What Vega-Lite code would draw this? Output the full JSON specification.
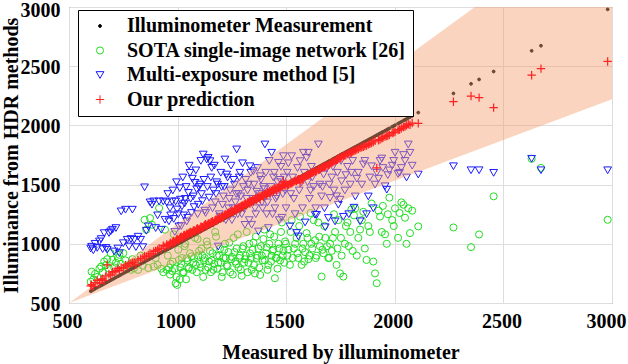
{
  "$schema": "https://vega.github.io/schema/vega-lite/v6.json",
  "width": 543,
  "height": 296,
  "autosize": {"type": "none"},
  "padding": {"left": 69, "top": 7, "right": 16, "bottom": 61},
  "background": "white",
  "config": {
    "font": "Liberation Serif",
    "view": {"stroke": "#666666", "strokeWidth": 1},
    "axis": {
      "labelFont": "Liberation Serif", "labelFontSize": 20, "labelFontWeight": "bold", "labelColor": "#000000",
      "titleFont": "Liberation Serif", "titleFontSize": 20, "titleFontWeight": "bold", "titleColor": "#000000",
      "gridColor": "#dddddd", "gridWidth": 1, "domain": false, "ticks": false, "format": "d"
    },
    "legend": {
      "labelFont": "Liberation Serif", "labelFontSize": 20, "labelFontWeight": "bold", "labelColor": "#000000",
      "strokeColor": "#000000", "fillColor": "#ffffff", "padding": 6, "rowPadding": 4.5, "labelLimit": 400,
      "labelOffset": 17, "symbolOffset": 6, "symbolStrokeWidth": 1
    }
  },
  "datasets": {
    "pts": [
      {"m":600,"ours":645,"multi":960,"sota":680},
      {"m":604,"ours":655,"multi":975,"sota":765},
      {"m":612,"ours":640,"multi":945,"sota":700},
      {"m":620,"ours":672,"multi":1000,"sota":745},
      {"m":630,"ours":690,"multi":965,"sota":720},
      {"m":640,"ours":668,"multi":1020,"sota":790},
      {"m":648,"ours":700,"multi":1040,"sota":808},
      {"m":655,"ours":705,"multi":955,"sota":760},
      {"m":662,"ours":690,"multi":1090,"sota":850},
      {"m":670,"ours":728,"multi":965,"sota":820},
      {"m":676,"ours":822,"multi":950,"sota":870},
      {"m":684,"ours":745,"multi":1091,"sota":790},
      {"m":692,"ours":735,"multi":1105,"sota":921},
      {"m":700,"ours":760,"multi":1119,"sota":864},
      {"m":708,"ours":765,"multi":935,"sota":800},
      {"m":716,"ours":770,"multi":1133,"sota":840},
      {"m":725,"ours":790,"multi":960,"sota":880},
      {"m":732,"ours":775,"multi":921,"sota":907},
      {"m":740,"ours":800,"multi":1274,"sota":830},
      {"m":750,"ours":795,"multi":1005,"sota":921},
      {"m":760,"ours":820,"multi":1288,"sota":860},
      {"m":768,"ours":812,"multi":1034,"sota":800},
      {"m":776,"ours":830,"multi":977,"sota":822},
      {"m":785,"ours":835,"multi":1040,"sota":780},
      {"m":792,"ours":840,"multi":1288,"sota":870},
      {"m":800,"ours":845,"multi":1034,"sota":794},
      {"m":808,"ours":822,"multi":972,"sota":840},
      {"m":818,"ours":862,"multi":1060,"sota":780},
      {"m":830,"ours":875,"multi":1034,"sota":900},
      {"m":840,"ours":880,"multi":972,"sota":815},
      {"m":848,"ours":895,"multi":1477,"sota":1203},
      {"m":856,"ours":892,"multi":1110,"sota":1119},
      {"m":865,"ours":905,"multi":1147,"sota":796},
      {"m":873,"ours":920,"multi":1350,"sota":1217},
      {"m":882,"ours":915,"multi":1330,"sota":1161},
      {"m":890,"ours":935,"multi":1358,"sota":808},
      {"m":899,"ours":940,"multi":1133,"sota":880},
      {"m":908,"ours":950,"multi":1240,"sota":822},
      {"m":915,"ours":963,"multi":1358,"sota":1302},
      {"m":925,"ours":958,"multi":1119,"sota":790},
      {"m":934,"ours":985,"multi":1358,"sota":760},
      {"m":942,"ours":975,"multi":1203,"sota":1119},
      {"m":950,"ours":995,"multi":1350,"sota":780},
      {"m":955,"ours":985,"multi":1420,"sota":900},
      {"m":960,"ours":991,"multi":1190,"sota":800},
      {"m":965,"ours":1000,"multi":1300,"sota":740},
      {"m":968,"ours":1010,"multi":1240,"sota":830},
      {"m":975,"ours":1000,"multi":1358,"sota":770},
      {"m":978,"ours":1015,"multi":1450,"sota":850},
      {"m":982,"ours":1025,"multi":1210,"sota":1080},
      {"m":987,"ours":1010,"multi":1100,"sota":790},
      {"m":991,"ours":1020,"multi":1358,"sota":667},
      {"m":995,"ours":1035,"multi":1520,"sota":720},
      {"m":998,"ours":1040,"multi":1290,"sota":653},
      {"m":1003,"ours":1030,"multi":1250,"sota":950},
      {"m":1006,"ours":1034,"multi":1147,"sota":864},
      {"m":1010,"ours":1045,"multi":1470,"sota":700},
      {"m":1013,"ours":1055,"multi":1373,"sota":800},
      {"m":1017,"ours":1060,"multi":1150,"sota":830},
      {"m":1020,"ours":1050,"multi":1316,"sota":880},
      {"m":1024,"ours":1055,"multi":1560,"sota":760},
      {"m":1028,"ours":1070,"multi":1240,"sota":760},
      {"m":1032,"ours":1075,"multi":1340,"sota":980},
      {"m":1035,"ours":1062,"multi":1379,"sota":1000},
      {"m":1039,"ours":1070,"multi":1480,"sota":700},
      {"m":1042,"ours":1085,"multi":1189,"sota":878},
      {"m":1046,"ours":1080,"multi":1220,"sota":860},
      {"m":1050,"ours":1080,"multi":1430,"sota":790},
      {"m":1053,"ours":1090,"multi":1660,"sota":800},
      {"m":1057,"ours":1095,"multi":1599,"sota":920},
      {"m":1060,"ours":1100,"multi":1380,"sota":1100},
      {"m":1064,"ours":1090,"multi":1260,"sota":895},
      {"m":1068,"ours":1095,"multi":1550,"sota":780},
      {"m":1072,"ours":1110,"multi":1400,"sota":840},
      {"m":1076,"ours":1115,"multi":1310,"sota":880},
      {"m":1080,"ours":1105,"multi":1515,"sota":1050},
      {"m":1084,"ours":1110,"multi":1620,"sota":820},
      {"m":1088,"ours":1125,"multi":1460,"sota":760},
      {"m":1092,"ours":1130,"multi":1250,"sota":1040},
      {"m":1095,"ours":1115,"multi":1330,"sota":900},
      {"m":1099,"ours":1125,"multi":1480,"sota":940},
      {"m":1103,"ours":1119,"multi":1500,"sota":830},
      {"m":1107,"ours":1145,"multi":1700,"sota":800},
      {"m":1110,"ours":1140,"multi":1420,"sota":960},
      {"m":1114,"ours":1140,"multi":1360,"sota":900},
      {"m":1118,"ours":1135,"multi":1754,"sota":720},
      {"m":1121,"ours":1150,"multi":1540,"sota":860},
      {"m":1125,"ours":1160,"multi":1280,"sota":880},
      {"m":1129,"ours":1165,"multi":1260,"sota":780},
      {"m":1134,"ours":1150,"multi":1712,"sota":1020},
      {"m":1137,"ours":1160,"multi":1480,"sota":990},
      {"m":1141,"ours":1170,"multi":1726,"sota":800},
      {"m":1145,"ours":1175,"multi":1390,"sota":850},
      {"m":1149,"ours":1165,"multi":1698,"sota":940},
      {"m":1153,"ours":1180,"multi":1560,"sota":760},
      {"m":1157,"ours":1185,"multi":1641,"sota":860},
      {"m":1161,"ours":1190,"multi":1300,"sota":920},
      {"m":1165,"ours":1175,"multi":1450,"sota":780},
      {"m":1169,"ours":1185,"multi":1660,"sota":830},
      {"m":1173,"ours":1200,"multi":1350,"sota":1100},
      {"m":1177,"ours":1205,"multi":1420,"sota":1060},
      {"m":1180,"ours":1195,"multi":1520,"sota":900},
      {"m":1184,"ours":1200,"multi":1500,"sota":790},
      {"m":1187,"ours":1215,"multi":977,"sota":840},
      {"m":1192,"ours":1225,"multi":1250,"sota":900},
      {"m":1195,"ours":1210,"multi":1230,"sota":960},
      {"m":1199,"ours":1215,"multi":1600,"sota":840},
      {"m":1203,"ours":1230,"multi":1480,"sota":720},
      {"m":1207,"ours":1230,"multi":1330,"sota":760},
      {"m":1211,"ours":1220,"multi":1400,"sota":880},
      {"m":1215,"ours":1240,"multi":1480,"sota":950},
      {"m":1218,"ours":1245,"multi":1712,"sota":1000},
      {"m":1222,"ours":1250,"multi":1200,"sota":880},
      {"m":1226,"ours":1240,"multi":1585,"sota":820},
      {"m":1230,"ours":1255,"multi":1560,"sota":810},
      {"m":1234,"ours":1260,"multi":1300,"sota":930},
      {"m":1238,"ours":1265,"multi":1380,"sota":1010},
      {"m":1242,"ours":1250,"multi":1450,"sota":760},
      {"m":1246,"ours":1270,"multi":1660,"sota":870},
      {"m":1250,"ours":1275,"multi":1200,"sota":890},
      {"m":1254,"ours":1280,"multi":1300,"sota":740},
      {"m":1258,"ours":1268,"multi":1540,"sota":1050},
      {"m":1262,"ours":1290,"multi":1500,"sota":930},
      {"m":1266,"ours":1290,"multi":1350,"sota":850},
      {"m":1270,"ours":1295,"multi":1420,"sota":830},
      {"m":1272,"ours":1280,"multi":1797,"sota":960},
      {"m":1277,"ours":1300,"multi":1250,"sota":1080},
      {"m":1280,"ours":1305,"multi":1420,"sota":800},
      {"m":1284,"ours":1310,"multi":1560,"sota":880},
      {"m":1287,"ours":1295,"multi":1600,"sota":900},
      {"m":1291,"ours":1315,"multi":1400,"sota":780},
      {"m":1295,"ours":1320,"multi":1250,"sota":730},
      {"m":1299,"ours":1325,"multi":1680,"sota":960},
      {"m":1303,"ours":1310,"multi":1480,"sota":980},
      {"m":1306,"ours":1330,"multi":1300,"sota":840},
      {"m":1310,"ours":1335,"multi":1160,"sota":870},
      {"m":1314,"ours":1340,"multi":1540,"sota":900},
      {"m":1318,"ours":1325,"multi":1380,"sota":1100},
      {"m":1322,"ours":1350,"multi":1450,"sota":760},
      {"m":1326,"ours":1345,"multi":1500,"sota":840},
      {"m":1330,"ours":1355,"multi":1200,"sota":1000},
      {"m":1333,"ours":1340,"multi":1655,"sota":920},
      {"m":1337,"ours":1360,"multi":1600,"sota":880},
      {"m":1341,"ours":1360,"multi":1161,"sota":780},
      {"m":1345,"ours":1370,"multi":1380,"sota":950},
      {"m":1349,"ours":1355,"multi":1613,"sota":1010},
      {"m":1352,"ours":1375,"multi":1500,"sota":820},
      {"m":1356,"ours":1375,"multi":1300,"sota":750},
      {"m":1360,"ours":1385,"multi":1250,"sota":1060},
      {"m":1364,"ours":1370,"multi":1440,"sota":880},
      {"m":1368,"ours":1390,"multi":1640,"sota":900},
      {"m":1372,"ours":1390,"multi":1104,"sota":960},
      {"m":1376,"ours":1400,"multi":1420,"sota":800},
      {"m":1380,"ours":1380,"multi":1571,"sota":737},
      {"m":1384,"ours":1405,"multi":1540,"sota":980},
      {"m":1388,"ours":1405,"multi":1350,"sota":900},
      {"m":1391,"ours":1410,"multi":1300,"sota":860},
      {"m":1395,"ours":1395,"multi":1480,"sota":1040},
      {"m":1399,"ours":1420,"multi":1460,"sota":1120},
      {"m":1402,"ours":1420,"multi":1839,"sota":860},
      {"m":1406,"ours":1425,"multi":1600,"sota":920},
      {"m":1410,"ours":1410,"multi":1250,"sota":970},
      {"m":1414,"ours":1435,"multi":1350,"sota":780},
      {"m":1418,"ours":1430,"multi":1133,"sota":820},
      {"m":1422,"ours":1440,"multi":1700,"sota":1000},
      {"m":1426,"ours":1425,"multi":1420,"sota":1080},
      {"m":1430,"ours":1450,"multi":1480,"sota":850},
      {"m":1433,"ours":1445,"multi":1769,"sota":900},
      {"m":1437,"ours":1455,"multi":1250,"sota":940},
      {"m":1441,"ours":1440,"multi":1560,"sota":950},
      {"m":1445,"ours":1465,"multi":1600,"sota":1060},
      {"m":1448,"ours":1455,"multi":1300,"sota":709},
      {"m":1452,"ours":1470,"multi":1380,"sota":880},
      {"m":1456,"ours":1450,"multi":1400,"sota":880},
      {"m":1460,"ours":1475,"multi":1520,"sota":790},
      {"m":1464,"ours":1470,"multi":1684,"sota":1000},
      {"m":1468,"ours":1485,"multi":1200,"sota":960},
      {"m":1472,"ours":1465,"multi":1540,"sota":860},
      {"m":1476,"ours":1490,"multi":1650,"sota":1100},
      {"m":1480,"ours":1485,"multi":1220,"sota":1180},
      {"m":1484,"ours":1495,"multi":1420,"sota":900},
      {"m":1487,"ours":1528,"multi":1740,"sota":940},
      {"m":1491,"ours":1500,"multi":1560,"sota":840},
      {"m":1495,"ours":1490,"multi":1450,"sota":1020},
      {"m":1499,"ours":1510,"multi":1300,"sota":1000},
      {"m":1505,"ours":1495,"multi":1600,"sota":900},
      {"m":1510,"ours":1500,"multi":1680,"sota":950},
      {"m":1517,"ours":1505,"multi":1147,"sota":822},
      {"m":1521,"ours":1515,"multi":1420,"sota":1100},
      {"m":1525,"ours":1510,"multi":1740,"sota":1200},
      {"m":1530,"ours":1520,"multi":1560,"sota":880},
      {"m":1535,"ours":1525,"multi":1380,"sota":960},
      {"m":1541,"ours":1530,"multi":1250,"sota":1000},
      {"m":1548,"ours":1530,"multi":1091,"sota":1050},
      {"m":1552,"ours":1540,"multi":1640,"sota":920},
      {"m":1556,"ours":1545,"multi":1062,"sota":880},
      {"m":1560,"ours":1545,"multi":1450,"sota":1150},
      {"m":1564,"ours":1515,"multi":1698,"sota":1230},
      {"m":1571,"ours":1550,"multi":1520,"sota":822},
      {"m":1575,"ours":1555,"multi":1300,"sota":960},
      {"m":1579,"ours":1560,"multi":1769,"sota":1000},
      {"m":1583,"ours":1565,"multi":1600,"sota":850},
      {"m":1587,"ours":1565,"multi":1180,"sota":930},
      {"m":1594,"ours":1575,"multi":1726,"sota":1090},
      {"m":1598,"ours":1580,"multi":1520,"sota":1050},
      {"m":1602,"ours":1580,"multi":1769,"sota":870},
      {"m":1607,"ours":1590,"multi":1380,"sota":900},
      {"m":1612,"ours":1590,"multi":1450,"sota":1260},
      {"m":1616,"ours":1600,"multi":1650,"sota":1000},
      {"m":1620,"ours":1600,"multi":1560,"sota":960},
      {"m":1626,"ours":1605,"multi":1480,"sota":1200},
      {"m":1633,"ours":1610,"multi":1245,"sota":1030},
      {"m":1636,"ours":1615,"multi":1300,"sota":880},
      {"m":1640,"ours":1615,"multi":1245,"sota":900},
      {"m":1648,"ours":1625,"multi":1839,"sota":1180},
      {"m":1652,"ours":1630,"multi":1620,"sota":1060},
      {"m":1655,"ours":1630,"multi":1500,"sota":980},
      {"m":1663,"ours":1640,"multi":1400,"sota":723},
      {"m":1667,"ours":1645,"multi":1480,"sota":950},
      {"m":1672,"ours":1650,"multi":1585,"sota":920},
      {"m":1676,"ours":1650,"multi":1300,"sota":1150},
      {"m":1680,"ours":1655,"multi":1140,"sota":1050},
      {"m":1688,"ours":1660,"multi":1640,"sota":980},
      {"m":1694,"ours":1665,"multi":1218,"sota":880},
      {"m":1698,"ours":1670,"multi":1500,"sota":880},
      {"m":1702,"ours":1680,"multi":1387,"sota":1000},
      {"m":1710,"ours":1685,"multi":1560,"sota":940},
      {"m":1715,"ours":1690,"multi":1650,"sota":1050},
      {"m":1720,"ours":1695,"multi":1450,"sota":1250},
      {"m":1725,"ours":1700,"multi":1189,"sota":1100},
      {"m":1732,"ours":1710,"multi":1401,"sota":822},
      {"m":1736,"ours":1710,"multi":1600,"sota":960},
      {"m":1740,"ours":1720,"multi":1330,"sota":1200},
      {"m":1748,"ours":1725,"multi":1373,"sota":750},
      {"m":1752,"ours":1725,"multi":1700,"sota":1050},
      {"m":1755,"ours":1740,"multi":1528,"sota":900},
      {"m":1763,"ours":1740,"multi":1228,"sota":723},
      {"m":1770,"ours":1745,"multi":1450,"sota":1000},
      {"m":1775,"ours":1750,"multi":1580,"sota":1150},
      {"m":1782,"ours":1760,"multi":1650,"sota":1180},
      {"m":1788,"ours":1765,"multi":1250,"sota":980},
      {"m":1795,"ours":1770,"multi":1500,"sota":1100},
      {"m":1800,"ours":1770,"multi":1600,"sota":1290},
      {"m":1806,"ours":1780,"multi":1700,"sota":940},
      {"m":1812,"ours":1785,"multi":1305,"sota":1240},
      {"m":1818,"ours":1790,"multi":1400,"sota":1300},
      {"m":1825,"ours":1795,"multi":1550,"sota":900},
      {"m":1832,"ours":1800,"multi":1600,"sota":1050},
      {"m":1840,"ours":1810,"multi":1190,"sota":1120},
      {"m":1848,"ours":1815,"multi":1500,"sota":1200},
      {"m":1855,"ours":1820,"multi":1670,"sota":1270},
      {"m":1862,"ours":1825,"multi":1700,"sota":960},
      {"m":1870,"ours":1830,"multi":1250,"sota":864},
      {"m":1878,"ours":1840,"multi":1400,"sota":1150},
      {"m":1885,"ours":1845,"multi":1560,"sota":1100},
      {"m":1893,"ours":1850,"multi":1655,"sota":1340},
      {"m":1901,"ours":1860,"multi":1300,"sota":850},
      {"m":1909,"ours":1870,"multi":1500,"sota":750},
      {"m":1917,"ours":1641,"multi":1600,"sota":667},
      {"m":1925,"ours":1875,"multi":1550,"sota":1280},
      {"m":1932,"ours":1880,"multi":1700,"sota":1230},
      {"m":1940,"ours":1890,"multi":1720,"sota":1100},
      {"m":1945,"ours":1895,"multi":1640,"sota":1320},
      {"m":1955,"ours":1905,"multi":1486,"sota":1080},
      {"m":1963,"ours":1910,"multi":1457,"sota":1000},
      {"m":1968,"ours":1915,"multi":1580,"sota":1250},
      {"m":1975,"ours":1920,"multi":1620,"sota":1390},
      {"m":1988,"ours":1935,"multi":1660,"sota":1200},
      {"m":1995,"ours":1940,"multi":1700,"sota":1150},
      {"m":2001,"ours":1945,"multi":1769,"sota":1300},
      {"m":2015,"ours":1960,"multi":1590,"sota":1050},
      {"m":2022,"ours":1965,"multi":1600,"sota":1260},
      {"m":2030,"ours":1975,"multi":1640,"sota":1350},
      {"m":2040,"ours":1985,"multi":1750,"sota":1330},
      {"m":2047,"ours":1990,"multi":1700,"sota":1220},
      {"m":2054,"ours":2000,"multi":1560,"sota":1000},
      {"m":2062,"ours":2010,"multi":1839,"sota":1300},
      {"m":2070,"ours":2005,"multi":1769,"sota":1090},
      {"m":2080,"ours":2020,"multi":1660,"sota":1280},
      {"m":2108,"ours":2017,"multi":1585,"sota":1147},
      {"m":2270,"ours":2200,"multi":1655,"sota":1138},
      {"m":2351,"ours":2248,"multi":1621,"sota":972},
      {"m":2388,"ours":2235,"multi":1621,"sota":1079},
      {"m":2455,"ours":2150,"multi":1599,"sota":1401},
      {"m":2630,"ours":2424,"multi":1718,"sota":1718},
      {"m":2673,"ours":2480,"multi":1621,"sota":1641},
      {"m":2980,"ours":2540,"multi":1621,"sota":1203}
    ],
    "band": [
      {"bx": 500, "lo": 500, "hi": 500},
      {"bx": 3000, "lo": 2220, "hi": 3845}
    ]
  },
  "layer": [
    {
      "data": {"name": "pts"},
      "transform": [{"fold": ["sota", "multi", "m"], "as": ["series", "y"]}],
      "encoding": {
        "x": {"field": "m", "type": "quantitative", "scale": {"domain": [500, 3000], "nice": false},
              "axis": {"values": [500, 1000, 1500, 2000, 2500, 3000], "title": "Measured by illuminometer", "labelFlush": false,
                       "labelPadding": 8, "titlePadding": 11,
                       "labelOffset": {"condition": {"test": "datum.value === 3000", "value": -6}, "value": -2}}},
        "y": {"field": "y", "type": "quantitative", "scale": {"domain": [500, 3000], "nice": false},
              "axis": {"values": [500, 1000, 1500, 2000, 2500, 3000], "title": "Illuminance from HDR methods", "labelFlush": false,
                       "labelPadding": 9, "labelOffset": {"condition": {"test": "datum.value === 3000", "value": 3}, "value": 1},
                       "titleX": -52, "titleBaseline": "alphabetic"}},
        "stroke": {"field": "series", "type": "nominal",
                  "scale": {"domain": ["m", "sota", "multi", "ours"], "range": ["#000000", "#22dd22", "#1a1aff", "#ff2020"]},
                  "legend": {"title": null, "orient": "none", "legendX": 9, "legendY": 3,
                             "labelExpr": "datum.value === 'm' ? 'Illuminometer Measurement' : datum.value === 'sota' ? 'SOTA single-image network [26]' : datum.value === 'multi' ? 'Multi-exposure method [5]' : 'Our prediction'"}},
        "fill": {"field": "series", "type": "nominal",
                  "scale": {"domain": ["m", "sota", "multi", "ours"], "range": ["#000000", "transparent", "transparent", "transparent"]},
                  "legend": {"title": null, "orient": "none", "legendX": 9, "legendY": 3,
                             "labelExpr": "datum.value === 'm' ? 'Illuminometer Measurement' : datum.value === 'sota' ? 'SOTA single-image network [26]' : datum.value === 'multi' ? 'Multi-exposure method [5]' : 'Our prediction'"}},
        "shape": {"field": "series", "type": "nominal",
                  "scale": {"domain": ["m", "sota", "multi", "ours"], "range": ["circle", "circle", "triangle-down", "M-1,0L1,0M0,-1L0,1"]},
                  "legend": {"title": null, "orient": "none", "legendX": 9, "legendY": 3,
                             "labelExpr": "datum.value === 'm' ? 'Illuminometer Measurement' : datum.value === 'sota' ? 'SOTA single-image network [26]' : datum.value === 'multi' ? 'Multi-exposure method [5]' : 'Our prediction'"}},
        "size": {"field": "series", "type": "nominal",
                  "scale": {"type": "ordinal", "domain": ["m", "sota", "multi", "ours"], "range": [8, 50, 60, 70]},
                  "legend": {"title": null, "orient": "none", "legendX": 9, "legendY": 3,
                             "labelExpr": "datum.value === 'm' ? 'Illuminometer Measurement' : datum.value === 'sota' ? 'SOTA single-image network [26]' : datum.value === 'multi' ? 'Multi-exposure method [5]' : 'Our prediction'"}}
      },
      "layer": [
        {"transform": [{"filter": "datum.series === 'sota'"}], "mark": {"type": "point", "strokeWidth": 1, "opacity": 1, "clip": true}},
        {"transform": [{"filter": "datum.series === 'multi'"}], "mark": {"type": "point", "strokeWidth": 1, "opacity": 1, "clip": true}},
        {"transform": [{"filter": "datum.series === 'm'"}], "mark": {"type": "point", "strokeWidth": 1, "opacity": 1, "clip": true}}
      ]
    },
    {
      "data": {"name": "band"},
      "mark": {"type": "area", "color": "#f7a070", "opacity": 0.45, "clip": true},
      "encoding": {
        "x": {"field": "bx", "type": "quantitative"},
        "y": {"field": "hi", "type": "quantitative"},
        "y2": {"field": "lo"}
      }
    },
    {
      "data": {"name": "pts"},
      "transform": [{"fold": ["ours"], "as": ["series", "y"]}],
      "mark": {"type": "point", "strokeWidth": 1.2, "opacity": 1, "clip": true},
      "encoding": {
        "x": {"field": "m", "type": "quantitative"},
        "y": {"field": "y", "type": "quantitative"},
        "stroke": {"field": "series", "type": "nominal",
                  "scale": {"domain": ["m", "sota", "multi", "ours"], "range": ["#000000", "#22dd22", "#1a1aff", "#ff2020"]},
                  "legend": {"title": null, "orient": "none", "legendX": 9, "legendY": 3,
                             "labelExpr": "datum.value === 'm' ? 'Illuminometer Measurement' : datum.value === 'sota' ? 'SOTA single-image network [26]' : datum.value === 'multi' ? 'Multi-exposure method [5]' : 'Our prediction'"}},
        "fill": {"field": "series", "type": "nominal",
                  "scale": {"domain": ["m", "sota", "multi", "ours"], "range": ["#000000", "transparent", "transparent", "transparent"]},
                  "legend": {"title": null, "orient": "none", "legendX": 9, "legendY": 3,
                             "labelExpr": "datum.value === 'm' ? 'Illuminometer Measurement' : datum.value === 'sota' ? 'SOTA single-image network [26]' : datum.value === 'multi' ? 'Multi-exposure method [5]' : 'Our prediction'"}},
        "shape": {"field": "series", "type": "nominal",
                  "scale": {"domain": ["m", "sota", "multi", "ours"], "range": ["circle", "circle", "triangle-down", "M-1,0L1,0M0,-1L0,1"]},
                  "legend": {"title": null, "orient": "none", "legendX": 9, "legendY": 3,
                             "labelExpr": "datum.value === 'm' ? 'Illuminometer Measurement' : datum.value === 'sota' ? 'SOTA single-image network [26]' : datum.value === 'multi' ? 'Multi-exposure method [5]' : 'Our prediction'"}},
        "size": {"field": "series", "type": "nominal",
                  "scale": {"type": "ordinal", "domain": ["m", "sota", "multi", "ours"], "range": [8, 50, 60, 70]},
                  "legend": {"title": null, "orient": "none", "legendX": 9, "legendY": 3,
                             "labelExpr": "datum.value === 'm' ? 'Illuminometer Measurement' : datum.value === 'sota' ? 'SOTA single-image network [26]' : datum.value === 'multi' ? 'Multi-exposure method [5]' : 'Our prediction'"}}
      }
    }
  ]
}
